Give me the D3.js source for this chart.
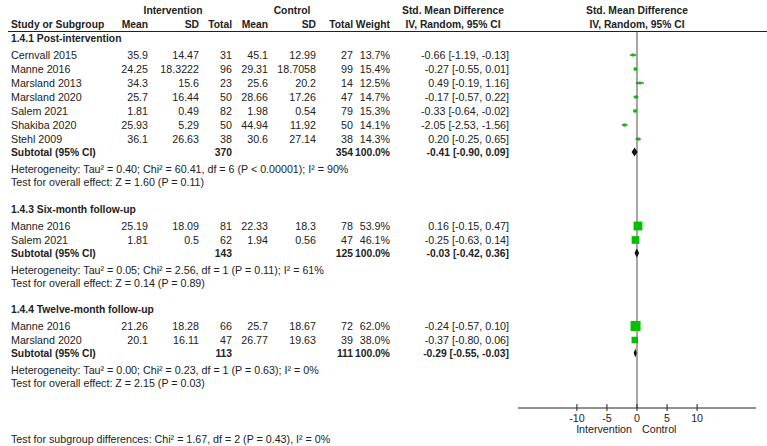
<!DOCTYPE html>
<html>
<head>
<meta charset="utf-8">
<script src="https://cdn.jsdelivr.net/npm/d3@7"></script>
<style>
  body { margin: 0; background: #fff; }
  text { font-family: Arial, "Liberation Sans", sans-serif; font-size: 10.7px; fill: #222; }
  .b { font-weight: bold; font-size: 10.3px; }
</style>
</head>
<body>
<script>
// subgroups
const groups = ["1.4.1 Post-intervention", "1.4.3 Six-month follow-up", "1.4.4 Twelve-month follow-up"];

// study rows
const study  = ["Cernvall 2015", "Manne 2016", "Marsland 2013", "Marsland 2020", "Salem 2021", "Shakiba 2020", "Stehl 2009",
                "Manne 2016", "Salem 2021", "Manne 2016", "Marsland 2020"];
const group  = [0, 0, 0, 0, 0, 0, 0, 1, 1, 2, 2];
const meanI  = [35.9, 24.25, 34.3, 25.7, 1.81, 25.93, 36.1, 25.19, 1.81, 21.26, 20.1];
const sdI    = [14.47, 18.3222, 15.6, 16.44, 0.49, 5.29, 26.63, 18.09, 0.5, 18.28, 16.11];
const nI     = [31, 96, 23, 50, 82, 50, 38, 81, 62, 66, 47];
const meanC  = [45.1, 29.31, 25.6, 28.66, 1.98, 44.94, 30.6, 22.33, 1.94, 25.7, 26.77];
const sdC    = [12.99, 18.7058, 20.2, 17.26, 0.54, 11.92, 27.14, 18.3, 0.56, 18.67, 19.63];
const nC     = [27, 99, 14, 47, 79, 50, 38, 78, 47, 72, 39];
const weight = [13.7, 15.4, 12.5, 14.7, 15.3, 14.1, 14.3, 53.9, 46.1, 62.0, 38.0];
const smd    = [-0.66, -0.27, 0.49, -0.17, -0.33, -2.05, 0.20, 0.16, -0.25, -0.24, -0.37];
const lo     = [-1.19, -0.55, -0.19, -0.57, -0.64, -2.53, -0.25, -0.15, -0.63, -0.57, -0.80];
const hi     = [-0.13, 0.01, 1.16, 0.22, -0.02, -1.56, 0.65, 0.47, 0.14, 0.10, 0.06];

// subtotals
const subNI  = [370, 143, 113];
const subNC  = [354, 125, 111];
const subSmd = [-0.41, -0.03, -0.29];
const subLo  = [-0.90, -0.42, -0.55];
const subHi  = [0.09, 0.36, -0.03];
const hetero = ["Tau\u00b2 = 0.40; Chi\u00b2 = 60.41, df = 6 (P < 0.00001); I\u00b2 = 90%",
                "Tau\u00b2 = 0.05; Chi\u00b2 = 2.56, df = 1 (P = 0.11); I\u00b2 = 61%",
                "Tau\u00b2 = 0.00; Chi\u00b2 = 0.23, df = 1 (P = 0.63); I\u00b2 = 0%"];
const overall = ["Z = 1.60 (P = 0.11)", "Z = 0.14 (P = 0.89)", "Z = 2.15 (P = 0.03)"];
const subgroupTest = "Test for subgroup differences: Chi\u00b2 = 1.67, df = 2 (P = 0.43), I\u00b2 = 0%";

const ticks = [-10, -5, 0, 5, 10];

const width = 767, height = 446;
const svg = d3.select("body").append("svg")
    .attr("width", width)
    .attr("height", height);

const x = d3.scaleLinear().domain([-19.8, 19.8]).range([518, 756]);
const size = d3.scaleLinear().domain([0, 62]).range([1, 10]);

// column right edges
const col = {meanI: 148, sdI: 199, nI: 232, meanC: 268, sdC: 316, nC: 353, w: 390, eff: 509};
const f2 = v => v.toFixed(2);
const effText = (m, l, h) => f2(m) + " [" + f2(l) + ", " + f2(h) + "]";

function txt(xp, yp, s, anchor, bold) {
    svg.append("text")
        .attr("x", xp).attr("y", yp + 4)
        .attr("text-anchor", anchor || "start")
        .attr("class", bold ? "b" : null)
        .text(s);
}

// header
txt(173, 10, "Intervention", "middle", true);
txt(292, 10, "Control", "middle", true);
txt(453, 10, "Std. Mean Difference", "middle", true);
txt(637, 10, "Std. Mean Difference", "middle", true);
txt(11, 24, "Study or Subgroup", "start", true);
txt(col.meanI, 24, "Mean", "end", true);
txt(col.sdI, 24, "SD", "end", true);
txt(col.nI, 24, "Total", "end", true);
txt(col.meanC, 24, "Mean", "end", true);
txt(col.sdC, 24, "SD", "end", true);
txt(col.nC, 24, "Total", "end", true);
txt(col.w, 24, "Weight", "end", true);
txt(453, 24, "IV, Random, 95% CI", "middle", true);
txt(637, 24, "IV, Random, 95% CI", "middle", true);

svg.append("line")
    .attr("x1", 8).attr("x2", 767).attr("y1", 31.5).attr("y2", 31.5)
    .attr("stroke", "#222").attr("stroke-width", 1);

// zero line
svg.append("line")
    .attr("x1", x(0)).attr("x2", x(0)).attr("y1", 32).attr("y2", 408)
    .attr("stroke", "#8a8a8a").attr("stroke-width", 1.5);

// rows
let y = 38;
const tops = [38, 209, 309];
groups.forEach(function(g, gi) {
    y = tops[gi];
    txt(11, y, g, "start", true);
    y += 17;
    const idx = d3.range(study.length).filter(i => group[i] === gi);
    idx.forEach(function(i) {
        txt(11, y, study[i]);
        txt(col.meanI, y, String(meanI[i]), "end");
        txt(col.sdI, y, String(sdI[i]), "end");
        txt(col.nI, y, String(nI[i]), "end");
        txt(col.meanC, y, String(meanC[i]), "end");
        txt(col.sdC, y, String(sdC[i]), "end");
        txt(col.nC, y, String(nC[i]), "end");
        txt(col.w, y, weight[i].toFixed(1) + "%", "end");
        txt(col.eff, y, effText(smd[i], lo[i], hi[i]), "end");

        svg.append("line")
            .attr("x1", x(lo[i])).attr("x2", x(hi[i]))
            .attr("y1", y).attr("y2", y)
            .attr("stroke", "#222").attr("stroke-width", 1);
        const s = size(weight[i]);
        svg.append("rect")
            .attr("x", x(smd[i]) - s / 2).attr("y", y - s / 2)
            .attr("width", s).attr("height", s)
            .attr("fill", "#00c000");
        y += 14;
    });
    y -= 1;
    txt(11, y, "Subtotal (95% CI)", "start", true);
    txt(col.nI, y, String(subNI[gi]), "end", true);
    txt(col.nC, y, String(subNC[gi]), "end", true);
    txt(col.w, y, "100.0%", "end", true);
    txt(col.eff, y, effText(subSmd[gi], subLo[gi], subHi[gi]), "end", true);
    svg.append("path")
        .attr("d", "M" + x(subLo[gi]) + "," + y +
                   "L" + x(subSmd[gi]) + "," + (y - 4.5) +
                   "L" + x(subHi[gi]) + "," + y +
                   "L" + x(subSmd[gi]) + "," + (y + 4.5) + "Z")
        .attr("fill", "#111");
    y += 16.5;
    txt(11, y, "Heterogeneity: " + hetero[gi]);
    y += 13.5;
    txt(11, y, "Test for overall effect: " + overall[gi]);
});

txt(11, 439, subgroupTest);

// axis
const axisY = 408;
svg.append("line")
    .attr("x1", x.range()[0]).attr("x2", x.range()[1])
    .attr("y1", axisY).attr("y2", axisY)
    .attr("stroke", "#222").attr("stroke-width", 1);
svg.selectAll("line.tick")
    .data(ticks)
  .enter().append("line")
    .attr("class", "tick")
    .attr("x1", d => x(d)).attr("x2", d => x(d))
    .attr("y1", axisY - 4).attr("y2", axisY + 3)
    .attr("stroke", "#222").attr("stroke-width", 1);
svg.selectAll("text.ticklab")
    .data(ticks)
  .enter().append("text")
    .attr("class", "ticklab")
    .attr("x", d => x(d)).attr("y", axisY + 14)
    .attr("text-anchor", "middle")
    .text(d => d);

txt(x(0) - 5, 429, "Intervention", "end");
txt(x(0) + 5, 429, "Control", "start");
</script>
</body>
</html>
